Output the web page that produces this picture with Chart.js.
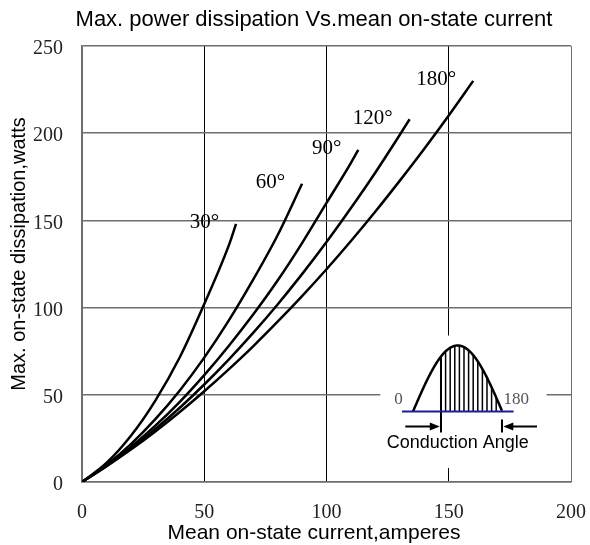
<!DOCTYPE html>
<html>
<head>
<meta charset="utf-8">
<script src="https://cdn.jsdelivr.net/npm/chart.js@4.4.0/dist/chart.umd.min.js"></script>
<style>
  html, body { margin: 0; padding: 0; background: #fff; }
</style>
</head>
<body>
<canvas id="chart" width="590" height="545"></canvas>
<script>
// mean on-state current (A) against max. dissipation (W), one pair per conduction angle
const current30 = [0, 10, 20, 30, 40, 50, 60, 63];
const power30 = [0, 10.9, 26.5, 46.7, 71.5, 102, 135.5, 148];

const current60 = [0, 10, 20, 30, 40, 50, 60, 70, 80, 90];
const power60 = [0, 9.7, 21.7, 36, 52.5, 71.3, 92.5, 116, 141.5, 171];

const current90 = [0, 10, 20, 30, 40, 50, 60, 70, 80, 90, 100, 110, 113];
const power90 = [0, 9.3, 20.1, 32.3, 46, 61.3, 78, 96, 115.5, 137, 160, 183, 190.5];

const current120 = [0, 10, 20, 30, 40, 50, 60, 70, 80, 90, 100, 110, 120, 130, 134];
const power120 = [0, 9.1, 19.2, 30.4, 42.6, 55.9, 70.2, 85.5, 101.8, 119.2, 137.6, 157.1, 177.5, 199.1, 208];

const current180 = [0, 10, 20, 30, 40, 50, 60, 70, 80, 90, 100, 110, 120, 130, 140, 150, 160];
const power180 = [0, 9, 18.6, 29, 40.1, 52, 64.6, 77.8, 91.9, 106.6, 122, 138.2, 155.1, 172.8, 191.1, 210.2, 230];

const angleLabels = ['30°', '60°', '90°', '120°', '180°'];
const xTicks = [0, 50, 100, 150, 200];
const yTicks = [0, 50, 100, 150, 200, 250];

const chartTitle = 'Max. power dissipation Vs.mean on-state current';
const xTitle = 'Mean on-state current,amperes';
const yTitle = 'Max. on-state dissipation,watts';

const SANS = '"Liberation Sans", Arial, sans-serif';
const SERIF = '"Liberation Serif", "Times New Roman", serif';

function pairs(xs, ys) {
  return xs.map((v, i) => ({ x: v, y: ys[i] }));
}

const curves = [
  pairs(current30, power30),
  pairs(current60, power60),
  pairs(current90, power90),
  pairs(current120, power120),
  pairs(current180, power180)
];

const datasets = curves.map((pts, i) => ({
  label: angleLabels[i],
  data: pts,
  showLine: true,
  borderColor: '#000',
  borderWidth: 2.5,
  pointRadius: 0,
  cubicInterpolationMode: 'monotone'
}));

function arrowHead(ctx, tipX, tipY, dir) {
  ctx.beginPath();
  ctx.moveTo(tipX, tipY);
  ctx.lineTo(tipX - dir * 10, tipY - 4);
  ctx.lineTo(tipX - dir * 10, tipY + 4);
  ctx.closePath();
  ctx.fill();
}

// titles, angle labels and the half-wave sketch
const decor = {
  id: 'decor',
  afterDatasetsDraw(chart) {
    const { ctx, scales: { x, y } } = chart;
    ctx.save();
    ctx.fillStyle = '#000';

    // angle tags sit just left of each curve end
    ctx.font = '21px ' + SERIF;
    ctx.textAlign = 'right';
    ctx.textBaseline = 'middle';
    curves.forEach((pts, i) => {
      const last = pts[pts.length - 1];
      ctx.fillText(angleLabels[i], x.getPixelForValue(last.x) - 17, y.getPixelForValue(last.y) - 1);
    });

    // half sine with hatched conduction part
    const L = x.getPixelForValue(122), R = x.getPixelForValue(190);
    const T = y.getPixelForValue(84), B = y.getPixelForValue(8);
    ctx.fillStyle = '#fff';
    ctx.fillRect(L, T, R - L, B - T);

    const base = T + 76;
    const h0 = L + 32.7, h1 = L + 122, amp = 66;
    const hump = px => base - amp * Math.sin(Math.PI * (px - h0) / (h1 - h0));

    ctx.strokeStyle = '#000';
    ctx.lineWidth = 1.5;
    for (let px = L + 60.7 + 4.6; px < L + 118; px += 4.6) {
      ctx.beginPath();
      ctx.moveTo(px, base);
      ctx.lineTo(px, hump(px));
      ctx.stroke();
    }
    ctx.lineWidth = 2;
    ctx.beginPath();
    ctx.moveTo(L + 60.7, hump(L + 60.7));
    ctx.lineTo(L + 60.7, T + 97);
    ctx.moveTo(L + 121.7, T + 84);
    ctx.lineTo(L + 121.7, T + 97);
    ctx.stroke();

    ctx.lineWidth = 2.5;
    ctx.beginPath();
    for (let px = h0; px <= h1; px += 0.5) {
      if (px === h0) ctx.moveTo(px, hump(px));
      else ctx.lineTo(px, hump(px));
    }
    ctx.stroke();

    ctx.strokeStyle = '#1c1c9c';
    ctx.lineWidth = 2;
    ctx.beginPath();
    ctx.moveTo(L + 21.7, base);
    ctx.lineTo(L + 133.3, base);
    ctx.stroke();

    // arrows marking the conduction angle
    ctx.strokeStyle = '#000';
    ctx.fillStyle = '#000';
    ctx.lineWidth = 2;
    const ay = T + 91;
    ctx.beginPath();
    ctx.moveTo(L + 25, ay);
    ctx.lineTo(L + 52, ay);
    ctx.moveTo(L + 156.7, ay);
    ctx.lineTo(L + 130, ay);
    ctx.stroke();
    arrowHead(ctx, L + 59.5, ay, 1);
    arrowHead(ctx, L + 123, ay, -1);

    ctx.fillStyle = '#555';
    ctx.font = '17px ' + SERIF;
    ctx.textAlign = 'center';
    ctx.fillText('0', L + 18.3, T + 64);
    ctx.fillText('180', L + 136, T + 64);

    ctx.fillStyle = '#000';
    ctx.font = '18px ' + SANS;
    ctx.fillText('Conduction Angle', L + 77.5, T + 108);

    // chart and axis titles
    ctx.font = '22px ' + SANS;
    ctx.fillText(chartTitle, 314, 20);
    ctx.font = '21px ' + SANS;
    ctx.fillText(xTitle, 314, 533);
    ctx.font = '20px ' + SANS;
    ctx.translate(19, 254);
    ctx.rotate(-Math.PI / 2);
    ctx.fillText(yTitle, 0, 0);
    ctx.restore();
  }
};

new Chart(document.getElementById('chart'), {
  type: 'scatter',
  data: { datasets },
  options: {
    responsive: false,
    animation: false,
    layout: { padding: { top: 46, right: 19, bottom: 0, left: 0 } },
    plugins: {
      legend: { display: false },
      tooltip: { enabled: false },
      title: { display: false }
    },
    scales: {
      x: {
        type: 'linear',
        min: 0,
        max: 200,
        afterFit: s => { s.height = 63; s.paddingLeft = 0; s.paddingRight = 0; },
        afterBuildTicks: s => { s.ticks = xTicks.map(v => ({ value: v })); },
        ticks: {
          padding: 19,
          color: '#222',
          font: { family: SERIF, size: 20 }
        },
        grid: {
          drawTicks: false,
          lineWidth: 1,
          color: c => (c.tick && (c.tick.value === 0 || c.tick.value === 200)) ? '#6e6e6e' : '#000'
        },
        border: { color: '#6e6e6e', width: 1.5 }
      },
      y: {
        min: 0,
        max: 250,
        afterFit: s => { s.width = 82; s.paddingTop = 0; s.paddingBottom = 0; },
        afterBuildTicks: s => { s.ticks = yTicks.map(v => ({ value: v })); },
        ticks: {
          padding: 19,
          labelOffset: 3,
          color: '#222',
          font: { family: SERIF, size: 20 }
        },
        grid: {
          drawTicks: false,
          lineWidth: 1.5,
          color: '#6e6e6e'
        },
        border: { color: '#6e6e6e', width: 1.5 }
      }
    }
  },
  plugins: [decor]
});
</script>
</body>
</html>
